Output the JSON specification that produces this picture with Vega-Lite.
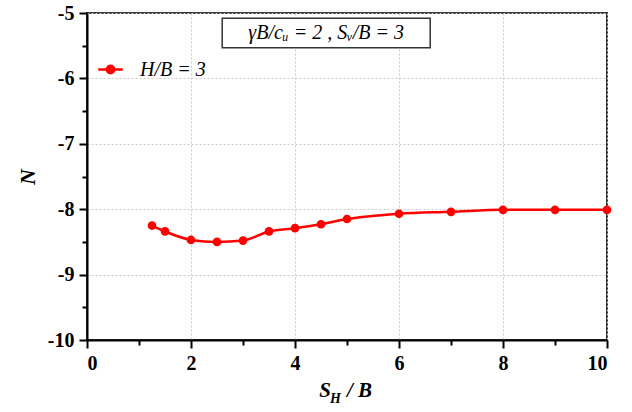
{
  "$schema": "https://vega.github.io/schema/vega-lite/v6.json",
  "width": 520,
  "height": 327,
  "autosize": {"type": "none"},
  "padding": {"left": 87, "top": 13, "right": 25, "bottom": 72},
  "background": "white",
  "config": {
    "view": {"stroke": "#333333", "strokeWidth": 2},
    "font": "Liberation Serif",
    "axis": {
      "labelFont": "Liberation Serif",
      "labelFontSize": 20,
      "labelFontWeight": "bold",
      "labelColor": "black",
      "labelExpr": "replace(datum.label, '\u2212', '-')",
      "domainColor": "black",
      "domainWidth": 2,
      "tickColor": "black",
      "tickWidth": 2,
      "gridColor": "#cccccc",
      "gridDash": [2, 2],
      "gridWidth": 1
    }
  },
  "resolve": {"axis": {"x": "independent", "y": "independent"}},
  "datasets": {
    "curve": [
      {"sh": 1.25, "n": -8.25, "series": "H/B = 3"},
      {"sh": 1.5, "n": -8.34, "series": "H/B = 3"},
      {"sh": 2.0, "n": -8.47, "series": "H/B = 3"},
      {"sh": 2.5, "n": -8.5, "series": "H/B = 3"},
      {"sh": 3.0, "n": -8.48, "series": "H/B = 3"},
      {"sh": 3.5, "n": -8.34, "series": "H/B = 3"},
      {"sh": 4.0, "n": -8.29, "series": "H/B = 3"},
      {"sh": 4.5, "n": -8.23, "series": "H/B = 3"},
      {"sh": 5.0, "n": -8.15, "series": "H/B = 3"},
      {"sh": 6.0, "n": -8.07, "series": "H/B = 3"},
      {"sh": 7.0, "n": -8.04, "series": "H/B = 3"},
      {"sh": 8.0, "n": -8.01, "series": "H/B = 3"},
      {"sh": 9.0, "n": -8.01, "series": "H/B = 3"},
      {"sh": 10.0, "n": -8.01, "series": "H/B = 3"}
    ],
    "note": [
      {"x1": 2.6, "x2": 6.6, "y1": -5.08, "y2": -5.53, "xc": 4.6, "yc": -5.3, "label": "γB/cᵤ = 2 , Sᵥ/B = 3"}
    ]
  },
  "layer": [
    {
      "data": {"name": "curve"},
      "mark": {"type": "line", "color": "#ff0000", "strokeWidth": 2.5, "interpolate": "monotone",
               "point": {"filled": true, "size": 75, "color": "#ff0000"}},
      "encoding": {
        "x": {
          "field": "sh", "type": "quantitative",
          "scale": {"domain": [0, 10], "nice": false},
          "axis": {"orient": "bottom", "values": [0, 2, 4, 6, 8, 10], "tickSize": 8, "labelPadding": 5, "title": null}
        },
        "y": {
          "field": "n", "type": "quantitative",
          "scale": {"domain": [-10, -5], "nice": false},
          "axis": {"orient": "left", "values": [-10, -9, -8, -7, -6, -5], "tickSize": 8, "labelPadding": 5,
                   "title": "N", "titleFont": "Liberation Serif", "titleFontSize": 22, "titleFontStyle": "italic",
                   "titleFontWeight": "bold", "titleColor": "black", "titlePadding": 8}
        },
        "color": {
          "field": "series", "type": "nominal",
          "scale": {"range": ["#ff0000"]},
          "legend": {
            "title": null, "orient": "none", "legendX": 10, "legendY": 43,
            "symbolType": "M-1,0L1,0M-0.3,0A0.3,0.3 0 1,0 0.3,0A0.3,0.3 0 1,0 -0.3,0",
            "symbolSize": 600, "symbolStrokeWidth": 2.5, "symbolStrokeColor": "#ff0000", "symbolFillColor": "#ff0000",
            "labelFont": "Liberation Serif", "labelFontSize": 20, "labelFontStyle": "italic", "labelColor": "black",
            "labelOffset": 16
          }
        }
      }
    },
    {
      "data": {"name": "curve"},
      "mark": {"type": "rule", "opacity": 0},
      "encoding": {
        "x": {
          "field": "sh", "type": "quantitative",
          "axis": {"orient": "bottom", "values": [1, 3, 5, 7, 9], "labels": false, "grid": false, "domain": false, "tickSize": 5, "title": null}
        },
        "y": {
          "field": "n", "type": "quantitative",
          "axis": {"orient": "left", "values": [-9.5, -8.5, -7.5, -6.5, -5.5], "labels": false, "grid": false, "domain": false, "tickSize": 5, "title": null}
        }
      }
    },
    {
      "data": {"name": "note"},
      "mark": {"type": "rect", "fill": "white", "stroke": "#333333", "strokeWidth": 1.5},
      "encoding": {
        "x": {"field": "x1", "type": "quantitative", "axis": null},
        "x2": {"field": "x2"},
        "y": {"field": "y1", "type": "quantitative", "axis": null},
        "y2": {"field": "y2"}
      }
    },
    {
      "data": {"name": "note"},
      "mark": {"type": "text", "font": "Liberation Serif", "fontSize": 20, "fontStyle": "italic", "color": "black", "align": "center", "baseline": "middle"},
      "encoding": {
        "x": {"field": "xc", "type": "quantitative", "axis": null},
        "y": {"field": "yc", "type": "quantitative", "axis": null},
        "text": {"field": "label"}
      }
    },
    {
      "data": {"values": [{"t": "S"}]},
      "mark": {"type": "text", "font": "Liberation Serif", "fontSize": 21, "fontStyle": "italic", "fontWeight": "bold", "color": "black", "align": "right", "baseline": "alphabetic", "dx": -16, "dy": 57, "clip": false},
      "encoding": {"x": {"datum": 5, "axis": null}, "y": {"datum": -10, "axis": null}, "text": {"field": "t"}}
    },
    {
      "data": {"values": [{"t": "H"}]},
      "mark": {"type": "text", "font": "Liberation Serif", "fontSize": 14, "fontStyle": "italic", "fontWeight": "bold", "color": "black", "align": "left", "baseline": "alphabetic", "dx": -17, "dy": 63, "clip": false},
      "encoding": {"x": {"datum": 5, "axis": null}, "y": {"datum": -10, "axis": null}, "text": {"field": "t"}}
    },
    {
      "data": {"values": [{"t": "/ B"}]},
      "mark": {"type": "text", "font": "Liberation Serif", "fontSize": 21, "fontStyle": "italic", "fontWeight": "bold", "color": "black", "align": "left", "baseline": "alphabetic", "dx": 0, "dy": 57, "clip": false},
      "encoding": {"x": {"datum": 5, "axis": null}, "y": {"datum": -10, "axis": null}, "text": {"field": "t"}}
    }
  ]
}
